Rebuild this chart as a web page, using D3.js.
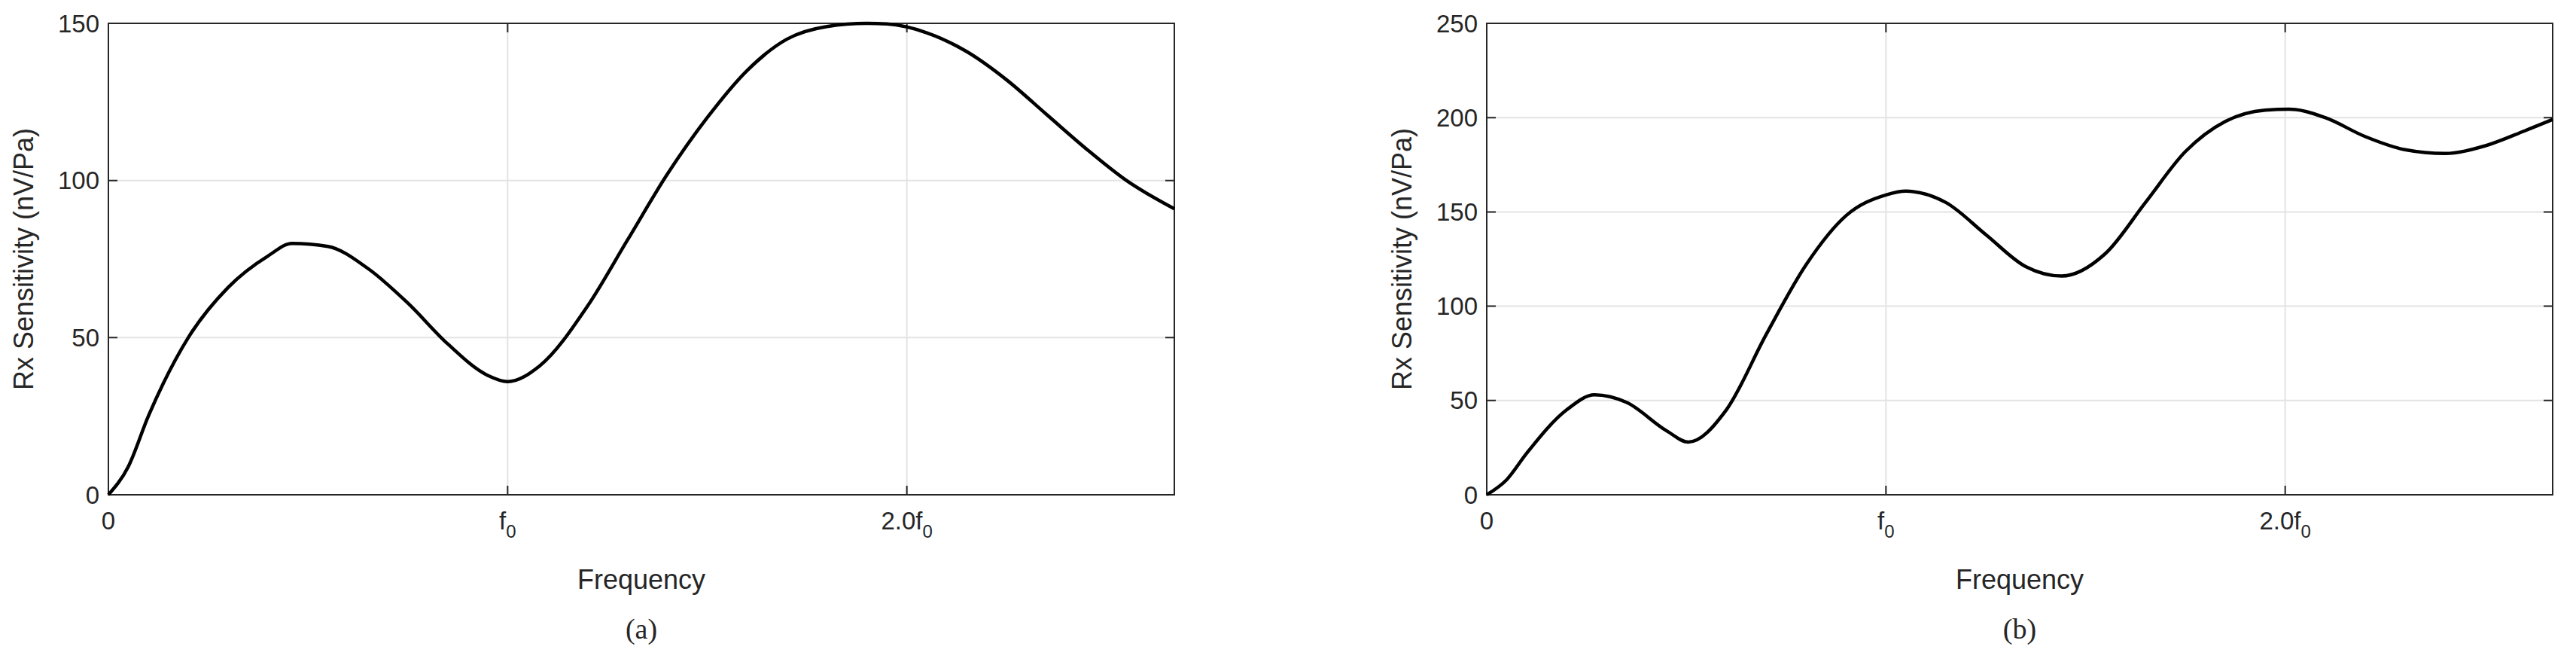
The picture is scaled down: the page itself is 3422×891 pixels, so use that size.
<!DOCTYPE html>
<html lang="en">
<head>
<meta charset="UTF-8">
<title>Rx Sensitivity</title>
<script src="https://cdn.jsdelivr.net/npm/d3@7"></script>
<style>
  body { margin: 0; background: #fff; }
  svg text { font-family: "Liberation Sans", Arial, sans-serif; fill: #262626; }
</style>
</head>
<body>
<svg id="chart" width="3422" height="891"></svg>
<script>
// x in units of f0
const freqA = [0, 0.05, 0.1, 0.2, 0.3, 0.4, 0.46, 0.55, 0.65, 0.75, 0.85, 0.95, 1.0, 1.08, 1.2, 1.3, 1.4, 1.5, 1.6, 1.7, 1.8, 1.9, 1.95, 2.05, 2.15, 2.25, 2.35, 2.45, 2.55, 2.67];
const sensA = [0, 9, 25, 50, 66, 76, 80, 79, 72, 61, 48, 38, 36, 41, 60, 81, 102, 120, 135, 145, 149, 150, 149.8, 147, 141, 132, 121, 110, 100, 91];

const freqB = [0, 0.05, 0.1, 0.2, 0.27, 0.35, 0.45, 0.505, 0.6, 0.7, 0.8, 0.9, 1.0, 1.05, 1.15, 1.25, 1.35, 1.44, 1.55, 1.65, 1.75, 1.85, 1.95, 2.01, 2.1, 2.2, 2.3, 2.4, 2.5, 2.6, 2.67];
const sensB = [0, 8, 22, 45, 53, 49, 34, 28, 45, 85, 122, 148, 159, 161, 155, 138, 121, 116, 128, 155, 182, 198, 204, 204.5, 200, 190, 183, 181, 185, 193, 199];

const xTicks = [0, 1, 2];
const xTickLabels = [["0", ""], ["f", "0"], ["2.0f", "0"]];
const yTicksA = [0, 50, 100, 150];
const yTicksB = [0, 50, 100, 150, 200, 250];

const svg = d3.select("#chart");

function drawPanel(left, freq, sens, yMax, yTicks, caption) {
  const x0 = left, x1 = left + 1416, yTop = 31, yBot = 657;
  const x = d3.scaleLinear().domain([0, 2.67]).range([x0, x1]);
  const y = d3.scaleLinear().domain([0, yMax]).range([yBot, yTop]);
  const g = svg.append("g");

  // grid
  g.selectAll(".gx").data(xTicks.slice(1)).enter().append("line")
    .attr("x1", d => x(d)).attr("x2", d => x(d)).attr("y1", yTop).attr("y2", yBot)
    .attr("stroke", "#e3e3e3").attr("stroke-width", 2);
  g.selectAll(".gy").data(yTicks.slice(1, -1)).enter().append("line")
    .attr("x1", x0).attr("x2", x1).attr("y1", d => y(d)).attr("y2", d => y(d))
    .attr("stroke", "#e3e3e3").attr("stroke-width", 2);

  // inward ticks
  g.selectAll(".ty").data(yTicks).enter().append("path")
    .attr("d", d => `M${x0},${y(d)}h12M${x1},${y(d)}h-12`)
    .attr("stroke", "#262626").attr("stroke-width", 2);
  g.selectAll(".tx").data(xTicks).enter().append("path")
    .attr("d", d => `M${x(d)},${yBot}v-12M${x(d)},${yTop}v12`)
    .attr("stroke", "#262626").attr("stroke-width", 2);

  // box
  g.append("rect").attr("x", x0).attr("y", yTop).attr("width", x1 - x0).attr("height", yBot - yTop)
    .attr("fill", "none").attr("stroke", "#262626").attr("stroke-width", 2);

  // curve
  const line = d3.line().x(d => x(d[0])).y(d => y(d[1])).curve(d3.curveMonotoneX);
  g.append("path").datum(freq.map((f, i) => [f, sens[i]]))
    .attr("d", line).attr("fill", "none").attr("stroke", "#000").attr("stroke-width", 4.5);

  // y tick labels
  g.selectAll(".ly").data(yTicks).enter().append("text")
    .attr("x", x0 - 12).attr("y", d => y(d)).attr("dy", "0.35em")
    .attr("text-anchor", "end").attr("font-size", 33).text(d => d);

  // x tick labels with subscript
  xTicks.forEach((t, i) => {
    const txt = g.append("text").attr("x", x(t)).attr("y", yBot + 46)
      .attr("text-anchor", "middle").attr("font-size", 33);
    txt.append("tspan").text(xTickLabels[i][0]);
    if (xTickLabels[i][1]) txt.append("tspan").attr("dy", 11).attr("font-size", 24).text(xTickLabels[i][1]);
  });

  g.append("text").attr("x", (x0 + x1) / 2).attr("y", 782).attr("text-anchor", "middle")
    .attr("font-size", 36).text("Frequency");
  g.append("text").attr("transform", `translate(${x0 - 100},${(yTop + yBot) / 2}) rotate(-90)`)
    .attr("text-anchor", "middle").attr("font-size", 36).text("Rx Sensitivity (nV/Pa)");
  g.append("text").attr("x", (x0 + x1) / 2).attr("y", 848).attr("text-anchor", "middle")
    .attr("font-size", 38).style("font-family", "'Liberation Serif', serif").text(caption);
}

drawPanel(144, freqA, sensA, 150, yTicksA, "(a)");
drawPanel(1975, freqB, sensB, 250, yTicksB, "(b)");
</script>
</body>
</html>
